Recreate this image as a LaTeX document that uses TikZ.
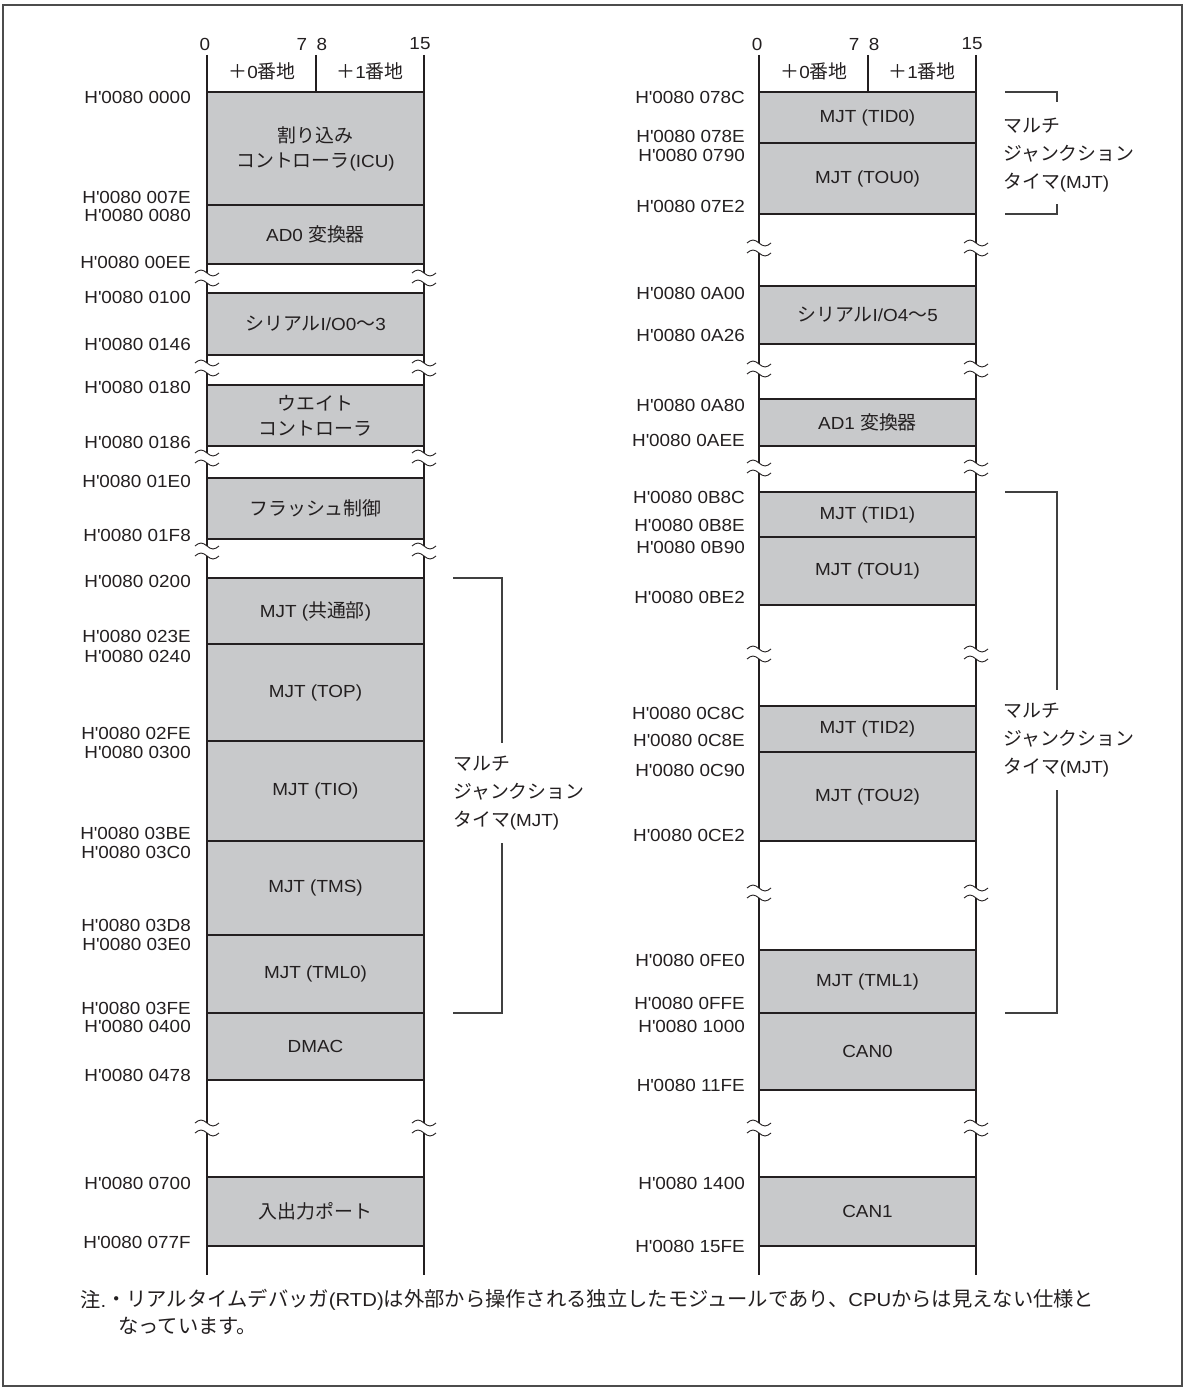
\documentclass[tikz,border=0pt]{standalone}
\usepackage{fontspec}
\setmainfont{Liberation Sans}[FakeStretch=1.08]
\newfontfamily\jp{Noto Sans CJK JP}[Scale=1.08]
\definecolor{blkgray}{RGB}{200,201,203}
\definecolor{ink}{RGB}{35,31,32}
\newcommand\mblk[5]{%
  \node[blk, minimum height={(#4-#3)*1pt}] (#1) at ({#2+108.5},{(#3+#4)/2}) {#5};
  \draw[hl] (#1.north west) -- (#1.north east);
  \draw[hl] (#1.south west) -- (#1.south east);
}
\newcommand\brkmark[2]{%
  \draw[brk] ({#1-12},{#2-5}) sin ({#1-6},{#2-8}) cos ({#1},{#2-5}) sin ({#1+6},{#2-2}) cos ({#1+12},{#2-5});
  \draw[brk] ({#1-12},{#2+5}) sin ({#1-6},{#2+2}) cos ({#1},{#2+5}) sin ({#1+6},{#2+8}) cos ({#1+12},{#2+5});
}
\newcommand\hq{H\textquotesingle0080 }
\begin{document}
\begin{tikzpicture}[x=1pt,y=-1pt,
  every node/.style={text=ink, font=\fontsize{17.5}{20}\selectfont},
  blk/.style={fill=blkgray, draw=none, inner sep=0pt, outer sep=0pt, minimum width=217pt, align=center, font=\fontsize{17.5}{25}\selectfont},
  addr/.style={anchor=east, inner sep=0pt},
  hl/.style={line width=2.2pt, draw=ink},
  vl/.style={line width=1.2pt, draw=ink},
  brk/.style={line width=0.9pt, draw=ink},
  bracket/.style={line width=1.1pt, draw=black!75},
  multi/.style={align=left, anchor=west, inner sep=0pt, font=\fontsize{17.5}{28}\selectfont},
  hdr/.style={inner sep=0pt},
  notetxt/.style={anchor=west, inner sep=0pt, font=\fontsize{18.8}{20}\selectfont}
]
\useasboundingbox (0,0) rectangle (1185,1389);
\draw[line width=1.5pt, draw=black!70] (3,5) rectangle (1182,1386);

% ---------------- left column ----------------
\mblk{icu}{207}{92}{205}{{\jp 割り込み}\\{\jp コントローラ}(ICU)}
\mblk{adz}{207}{205}{264}{AD0 {\jp 変換器}}
\mblk{sio}{207}{293}{355}{{\jp シリアル}I/O0{\jp ～}3}
\mblk{wait}{207}{385}{446}{{\jp ウエイト}\\{\jp コントローラ}}
\mblk{flash}{207}{478}{539}{{\jp フラッシュ制御}}
\mblk{mjtc}{207}{578}{644}{MJT ({\jp 共通部})}
\mblk{mjtp}{207}{644}{741}{MJT (TOP)}
\mblk{mjti}{207}{741}{841}{MJT (TIO)}
\mblk{mjts}{207}{841}{935}{MJT (TMS)}
\mblk{mjtl}{207}{935}{1013}{MJT (TML0)}
\mblk{dmac}{207}{1013}{1080}{DMAC}
\mblk{port}{207}{1177}{1246}{{\jp 入出力ポート}}

\foreach \xx in {207,424}{
  \draw[vl] (\xx,55) -- (\xx,273);
  \draw[vl] (\xx,283) -- (\xx,363);
  \draw[vl] (\xx,373) -- (\xx,453);
  \draw[vl] (\xx,463) -- (\xx,546);
  \draw[vl] (\xx,556) -- (\xx,1123);
  \draw[vl] (\xx,1133) -- (\xx,1275);
  \foreach \yy in {278,368,458,551,1128} {\brkmark{\xx}{\yy}}
}
\draw[vl] (316,55) -- (316,92);
\node[hdr] (h0) at (205,44) {0};
\node[hdr] (h7) at (302,44) {7};
\node[hdr] (h8) at (322,44) {8};
\node[hdr] (h15) at (420,44) {15};
\node[hdr] (b0) at (262,71) {{\jp ＋}0{\jp 番地}};
\node[hdr] (b1) at (370,71) {{\jp ＋}1{\jp 番地}};

\foreach \yy/\tt [count=\i] in {97/0000,197/007E,215/0080,262/00EE,297/0100,344/0146,387/0180,442/0186,481/01E0,535/01F8,581/0200,636/023E,656/0240,733/02FE,752/0300,833/03BE,852/03C0,925/03D8,944/03E0,1008/03FE,1026/0400,1075/0478,1183/0700,1242/077F}
  \node[addr] (la\i) at (191,\yy) {\hq\tt};

\coordinate (lbt) at (453,578);
\coordinate (lbc) at (502,578);
\coordinate (lbm1) at (502,743);
\coordinate (lbm2) at (502,843);
\coordinate (lbd) at (502,1013);
\coordinate (lbb) at (453,1013);
\draw[bracket] (lbt) -- (lbc) -- (lbm1);
\draw[bracket] (lbm2) -- (lbd) -- (lbb);
\node[multi] (lbtext) at (453,793) {{\jp マルチ}\\{\jp ジャンクション}\\{\jp タイマ}(MJT)};

% ---------------- right column ----------------
\mblk{tid0}{759}{92}{143}{MJT (TID0)}
\mblk{tou0}{759}{143}{214}{MJT (TOU0)}
\mblk{sio2}{759}{286}{344}{{\jp シリアル}I/O4{\jp ～}5}
\mblk{ad1}{759}{399}{446}{AD1 {\jp 変換器}}
\mblk{tid1}{759}{492}{537}{MJT (TID1)}
\mblk{tou1}{759}{537}{605}{MJT (TOU1)}
\mblk{tid2}{759}{706}{752}{MJT (TID2)}
\mblk{tou2}{759}{752}{841}{MJT (TOU2)}
\mblk{tml1}{759}{950}{1013}{MJT (TML1)}
\mblk{can0}{759}{1013}{1090}{CAN0}
\mblk{can1}{759}{1177}{1246}{CAN1}

\foreach \xx in {759,976}{
  \draw[vl] (\xx,55) -- (\xx,243);
  \draw[vl] (\xx,253) -- (\xx,364);
  \draw[vl] (\xx,374) -- (\xx,463);
  \draw[vl] (\xx,473) -- (\xx,649);
  \draw[vl] (\xx,659) -- (\xx,888);
  \draw[vl] (\xx,898) -- (\xx,1123);
  \draw[vl] (\xx,1133) -- (\xx,1275);
  \foreach \yy in {248,369,468,654,893,1128} {\brkmark{\xx}{\yy}}
}
\draw[vl] (868,55) -- (868,92);
\node[hdr] (rh0) at (757,44) {0};
\node[hdr] (rh7) at (854,44) {7};
\node[hdr] (rh8) at (874,44) {8};
\node[hdr] (rh15) at (972,44) {15};
\node[hdr] (rb0) at (814,71) {{\jp ＋}0{\jp 番地}};
\node[hdr] (rb1) at (922,71) {{\jp ＋}1{\jp 番地}};

\foreach \yy/\tt [count=\i] in {97/078C,136/078E,155/0790,206/07E2,293/0A00,335/0A26,405/0A80,440/0AEE,497/0B8C,525/0B8E,547/0B90,597/0BE2,713/0C8C,740/0C8E,770/0C90,835/0CE2,960/0FE0,1003/0FFE,1026/1000,1085/11FE,1183/1400,1246/15FE}
  \node[addr] (ra\i) at (745,\yy) {\hq\tt};

% bracket 1 (right top)
\coordinate (r1a) at (1005,92);
\coordinate (r1b) at (1057,92);
\coordinate (r1c) at (1057,102);
\coordinate (r1d) at (1057,204);
\coordinate (r1e) at (1057,214);
\coordinate (r1f) at (1005,214);
\draw[bracket] (r1a) -- (r1b) -- (r1c);
\draw[bracket] (r1d) -- (r1e) -- (r1f);
\node[multi] (r1text) at (1003,155) {{\jp マルチ}\\{\jp ジャンクション}\\{\jp タイマ}(MJT)};

% bracket 2 (right lower)
\coordinate (r2a) at (1005,492);
\coordinate (r2b) at (1057,492);
\coordinate (r2c) at (1057,690);
\coordinate (r2d) at (1057,790);
\coordinate (r2e) at (1057,1013);
\coordinate (r2f) at (1005,1013);
\draw[bracket] (r2a) -- (r2b) -- (r2c);
\draw[bracket] (r2d) -- (r2e) -- (r2f);
\node[multi] (r2text) at (1003,740) {{\jp マルチ}\\{\jp ジャンクション}\\{\jp タイマ}(MJT)};

% ---------------- note ----------------
\node[notetxt] (notehd) at (80,1300) {{\jp 注}.};
\node[notetxt] (note1) at (106,1300) {{\jp ・リアルタイムデバッガ}(RTD){\jp は外部から操作される独立したモジュールであり、}CPU{\jp からは見えない仕様と}};
\node[notetxt] (note2) at (118,1326) {{\jp なっています。}};
\end{tikzpicture}
\end{document}
